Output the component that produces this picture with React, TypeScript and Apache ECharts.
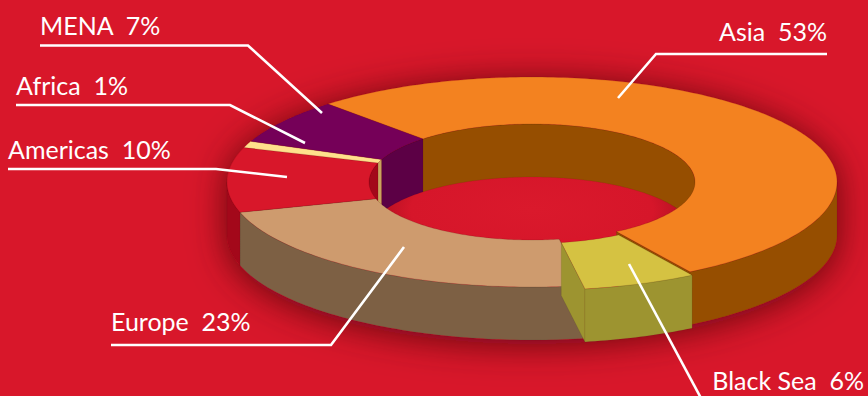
import React, { useEffect, useRef } from 'react';
import * as echarts from 'echarts';

// ---- data ----
const categories = ['Asia', 'Black Sea', 'Europe', 'Americas', 'Africa', 'MENA'];
const values = [53, 6, 23, 10, 1, 7];

// ---- styles ----
const topColors = ['#F38220', '#D5C242', '#CE9B6E', '#D8172A', '#FFE08C', '#750058'];
const sideColors = ['#964E00', '#9D9430', '#7D6044', '#A3081A', '#C9A35E', '#5C0045'];
const explode = [0, 6, 0, 0, 0, 0];
const BG = '#D8172A';

// ---- layout ----
const CX = 532, CY = 182, RX = 305, RY = 105, IRX = 163, IRY = 58, DEPTH = 53, START = 132;
const labelPos: [number, number, string][] = [
  [827, 31, 'right'],
  [864, 380, 'right'],
  [111, 321, 'left'],
  [8, 149, 'left'],
  [16, 85, 'left'],
  [40, 25, 'left'],
];
const leaderLines: number[][][] = [
  [[618, 98], [656, 54], [827, 54]],
  [[629, 264], [702, 400]],
  [[404, 247], [331, 345], [111, 345]],
  [[287, 177], [216, 169], [8, 169]],
  [[305, 143], [230, 105], [16, 105]],
  [[322, 113], [248, 45.5], [40, 45.5]],
];

function arcPts(rx: number, ry: number, a1: number, a2: number, ox: number, oy: number, dy: number) {
  const n = Math.max(2, Math.ceil(Math.abs(a2 - a1)) + 1);
  const pts: number[][] = [];
  for (let k = 0; k < n; k++) {
    const a = ((a1 + ((a2 - a1) * k) / (n - 1)) * Math.PI) / 180;
    pts.push([CX + ox + rx * Math.cos(a), CY + oy + dy - ry * Math.sin(a)]);
  }
  return pts;
}

function clip(a1: number, a2: number, lo: number, hi: number) {
  const out: number[][] = [];
  for (let k = -2; k <= 2; k++) {
    const l = Math.max(a1, lo + 360 * k);
    const h = Math.min(a2, hi + 360 * k);
    if (h > l + 0.01) out.push([l, h]);
  }
  return out;
}

function poly(points: number[][], fill: string, z2: number, extra: any = {}) {
  return { type: 'polygon', z2, shape: { points }, style: { fill, ...extra } };
}

export default function App() {
  const ref = useRef<HTMLDivElement>(null);
  useEffect(() => {
    document.body.style.margin = '0';
    const chart = echarts.init(ref.current!, null, { renderer: 'svg' });
    const total = values.reduce((s, v) => s + v, 0);
    chart.setOption({
      animation: false,
      backgroundColor: BG,
      series: [
        {
          type: 'custom',
          coordinateSystem: 'none',
          silent: true,
          data: values.map((v, i) => [v, i]),
          renderItem: (params: any, api: any) => {
            const i = params.dataIndex;
            const v = api.value(0);
            let cum = 0;
            for (let k = 0; k < i; k++) cum += values[k];
            const a2 = START - (cum / total) * 360;
            const a1 = a2 - (v / total) * 360;
            const mid = (((a1 + a2) / 2) * Math.PI) / 180;
            const ox = explode[i] * Math.cos(mid);
            const oy = -explode[i] * Math.sin(mid) * 0.6;
            const base = explode[i] ? 10 : 0;
            const children: any[] = [];
            if (i === 0) {
              const sil = arcPts(RX, RY, 0, 180, 0, 0, 0).concat(arcPts(RX, RY, 180, 360, 0, 0, DEPTH));
              children.push(
                poly(sil, BG, 0, {
                  shadowBlur: 36,
                  shadowColor: 'rgba(60,0,10,0.75)',
                  shadowOffsetY: 4,
                })
              );
              children.push({
                type: 'ellipse',
                z2: 1,
                shape: { cx: CX, cy: CY, rx: IRX, ry: IRY },
                style: {
                  fill: new echarts.graphic.RadialGradient(0.5, 0.74, 0.62, [
                    { offset: 0, color: '#DA192C' },
                    { offset: 0.6, color: '#D6162A' },
                    { offset: 1, color: '#820816' },
                  ]),
                },
              });
            }
            const side = sideColors[i];
            // inner walls (back half)
            clip(a1, a2, 0, 180).forEach(([b1, b2]) => {
              const pts = arcPts(IRX, IRY, b1, b2, ox, oy, 0).concat(arcPts(IRX, IRY, b2, b1, ox, oy, DEPTH));
              children.push(poly(pts, side, base + 2, { stroke: 'rgba(0,0,0,0.1)', lineWidth: 0.6 }));
            });
            // end faces (front half)
            [a1, a2].forEach((a) => {
              const n = ((a % 360) + 360) % 360;
              if (n > 180 || explode[i]) {
                const r = (a * Math.PI) / 180;
                const c = Math.cos(r), s = Math.sin(r);
                const pts = [
                  [CX + ox + IRX * c, CY + oy - IRY * s],
                  [CX + ox + RX * c, CY + oy - RY * s],
                  [CX + ox + RX * c, CY + oy - RY * s + DEPTH],
                  [CX + ox + IRX * c, CY + oy - IRY * s + DEPTH],
                ];
                children.push(poly(pts, side, base + 3, { stroke: 'rgba(0,0,0,0.12)', lineWidth: 0.6 }));
              }
            });
            // outer walls (front half)
            clip(a1, a2, -180, 0).forEach(([b1, b2]) => {
              const pts = arcPts(RX, RY, b1, b2, ox, oy, 0).concat(arcPts(RX, RY, b2, b1, ox, oy, DEPTH));
              children.push(poly(pts, side, base + 4, { stroke: 'rgba(0,0,0,0.1)', lineWidth: 0.6 }));
            });
            // top face
            const top = arcPts(RX, RY, a1, a2, ox, oy, 0).concat(arcPts(IRX, IRY, a2, a1, ox, oy, 0));
            children.push(poly(top, topColors[i], base + 5, { stroke: 'rgba(60,0,0,0.2)', lineWidth: 0.7 }));
            // leader line & label
            children.push({
              type: 'polyline',
              z2: 30,
              shape: { points: leaderLines[i] },
              style: { stroke: '#FFFFFF', lineWidth: 2.6, fill: 'none' },
            });
            const [lx, ly, al] = labelPos[i];
            children.push({
              type: 'text',
              z2: 31,
              x: lx,
              y: ly,
              style: {
                text: `${categories[i]}  ${values[i]}%`,
                fill: '#FFFFFF',
                fontSize: 25,
                fontFamily: 'Lato, "Open Sans", sans-serif',
                align: al,
                verticalAlign: 'middle',
              },
            });
            return { type: 'group', children };
          },
        },
      ],
    });
    return () => chart.dispose();
  }, []);
  return <div ref={ref} style={{ width: 868, height: 396 }} />;
}
